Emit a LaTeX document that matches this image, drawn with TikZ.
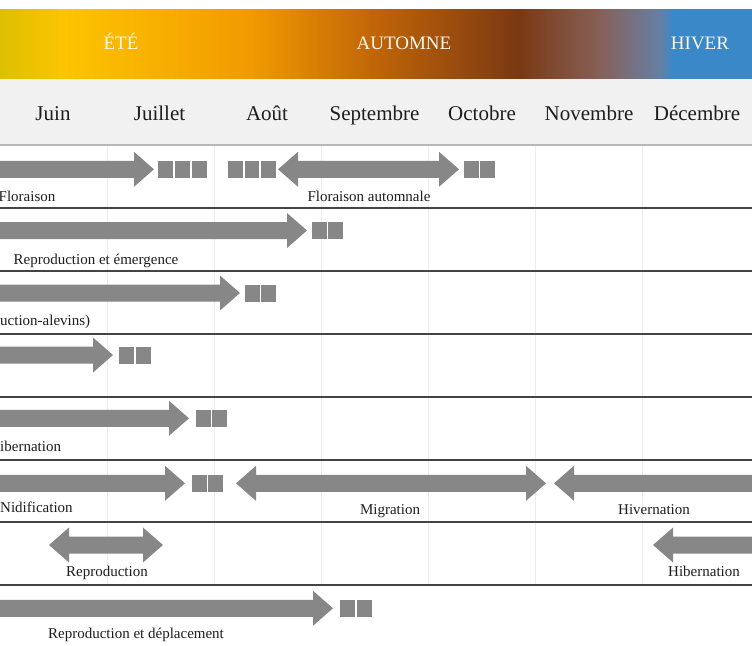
\documentclass[tikz,border=0pt]{standalone}
\usepackage{fontspec}
\setmainfont{Liberation Serif}
\definecolor{arrgrey}{HTML}{878787}
\definecolor{txt}{HTML}{1E1E1E}
\definecolor{seasontxt}{HTML}{FDF8EC}
\definecolor{rowgrey}{HTML}{444444}
\definecolor{colgrey}{HTML}{ECECEC}
\definecolor{bandgrey}{HTML}{F1F1F1}
\definecolor{bandline}{HTML}{B8B8B8}
\definecolor{gA}{HTML}{DCC000}
\definecolor{gB}{HTML}{FDC400}
\definecolor{gC}{HTML}{F29A00}
\definecolor{gD}{HTML}{C06508}
\definecolor{gE}{HTML}{7A3812}
\definecolor{gF}{HTML}{876058}
\definecolor{gG}{HTML}{6580A5}
\definecolor{gH}{HTML}{3B88C8}
\newcommand\myrarr[3]{\fill[arr] (#1,#3-8.5) -- (#2-20,#3-8.5) -- (#2-20,#3-17.5) -- (#2,#3) -- (#2-20,#3+17.5) -- (#2-20,#3+8.5) -- (#1,#3+8.5) -- cycle;}
\newcommand\mylarr[3]{\fill[arr] (#2,#3-8.5) -- (#1+20,#3-8.5) -- (#1+20,#3-17.5) -- (#1,#3) -- (#1+20,#3+17.5) -- (#1+20,#3+8.5) -- (#2,#3+8.5) -- cycle;}
\newcommand\mydarr[3]{\fill[arr] (#1,#3) -- (#1+20,#3-17.5) -- (#1+20,#3-8.5) -- (#2-20,#3-8.5) -- (#2-20,#3-17.5) -- (#2,#3) -- (#2-20,#3+17.5) -- (#2-20,#3+8.5) -- (#1+20,#3+8.5) -- (#1+20,#3+17.5) -- cycle;}
\newcommand\mysq[2]{\fill[sqbox] (#1,#2-8.5) rectangle ++(14.5,17);}
\begin{document}
\begin{tikzpicture}[x=1pt,y=-1pt,
  arr/.style={fill=arrgrey},
  sqbox/.style={fill=arrgrey},
  lbl/.style={anchor=base,inner sep=0pt,text=txt,font=\fontsize{15}{18}\selectfont},
  lblw/.style={lbl,anchor=base west},
  month/.style={anchor=base,inner sep=0pt,text=txt,font=\fontsize{21}{25}\selectfont},
  season/.style={anchor=base,inner sep=0pt,text=seasontxt,font=\fontsize{19}{23}\selectfont},
  rowline/.style={draw=rowgrey,line width=1.3pt},
  colline/.style={draw=colgrey,line width=0.8pt}]
\useasboundingbox (0,0) rectangle (752,645);
\clip (0,0) rectangle (752,645);
\fill[white] (0,0) rectangle (752,645);
% season band
\shade[left color=gA,right color=gB] (0,9) rectangle (65.5,79);
\shade[left color=gB,right color=gC] (65,9) rectangle (250.5,79);
\shade[left color=gC,right color=gD] (250,9) rectangle (375.5,79);
\shade[left color=gD,right color=gE] (375,9) rectangle (518.5,79);
\shade[left color=gE,right color=gF] (518,9) rectangle (600.5,79);
\shade[left color=gF,right color=gG] (600,9) rectangle (660.5,79);
\shade[left color=gG,right color=gH] (660,9) rectangle (672.5,79);
\fill[gH] (672,9) rectangle (752,79);
\node[season] (ete) at (121,49.3) {ÉTÉ};
\node[season] (automne) at (404,49.3) {AUTOMNE};
\node[season] (hiver) at (700,49.3) {HIVER};
% month band
\fill[bandgrey] (0,79) rectangle (752,145);
\draw[bandline,line width=1.5pt] (0,145) -- (752,145);
\node[month] (juin) at (53,120) {Juin};
\node[month] (juillet) at (159.5,120) {Juillet};
\node[month] (aout) at (267,120) {Août};
\node[month] (sept) at (374.5,120) {Septembre};
\node[month] (oct) at (482,120) {Octobre};
\node[month] (nov) at (589,120) {Novembre};
\node[month] (dec) at (697,120) {Décembre};
% column lines
\foreach \cx in {107,214,321,428,535,642} {\draw[colline] (\cx,146) -- (\cx,585);}
% row lines
\foreach \ry in {208,271,334,397,460,522,585} {\draw[rowline] (0,\ry) -- (752,\ry);}
% row 1
\myrarr{-10}{154}{169.3}
\mysq{158}{169.3}\mysq{175}{169.3}\mysq{192}{169.3}
\mysq{228}{169.3}\mysq{244.5}{169.3}\mysq{261}{169.3}
\mydarr{278}{459}{169.3}
\mysq{464}{169.3}\mysq{480}{169.3}
\node[lblw] (flor) at (-1.5,201) {Floraison};
\node[lbl] (florauto) at (369,201) {Floraison automnale};
% row 2
\myrarr{-10}{307}{230.5}
\mysq{312}{230.5}\mysq{328}{230.5}
\node[lbl] (reprem) at (96,264) {Reproduction et émergence};
% row 3
\myrarr{-10}{240}{293}
\mysq{245}{293}\mysq{261}{293}
\node[lblw] (alevins) at (0,325.5) {uction-alevins)};
% row 4
\myrarr{-10}{113}{355}
\mysq{119}{355}\mysq{136}{355}
% row 5
\myrarr{-10}{189}{418.3}
\mysq{196}{418.3}\mysq{212}{418.3}
\node[lblw] (hib1) at (0,451.7) {ibernation};
% row 6
\myrarr{-10}{185}{483.3}
\mysq{192}{483.3}\mysq{208}{483.3}
\mydarr{236}{546}{483.3}
\mylarr{554}{765}{483.3}
\node[lblw] (nidif) at (0,512.7) {Nidification};
\node[lbl] (migr) at (390,514) {Migration};
\node[lbl] (hivern) at (654,514) {Hivernation};
% row 7
\mydarr{49}{163}{545}
\mylarr{653}{765}{545}
\node[lbl] (repro) at (107,576) {Reproduction};
\node[lbl] (hib2) at (704,576) {Hibernation};
% row 8
\myrarr{-10}{333}{608.3}
\mysq{340}{608.3}\mysq{357}{608.3}
\node[lbl] (repdep) at (136,638) {Reproduction et déplacement};
\end{tikzpicture}
\end{document}
